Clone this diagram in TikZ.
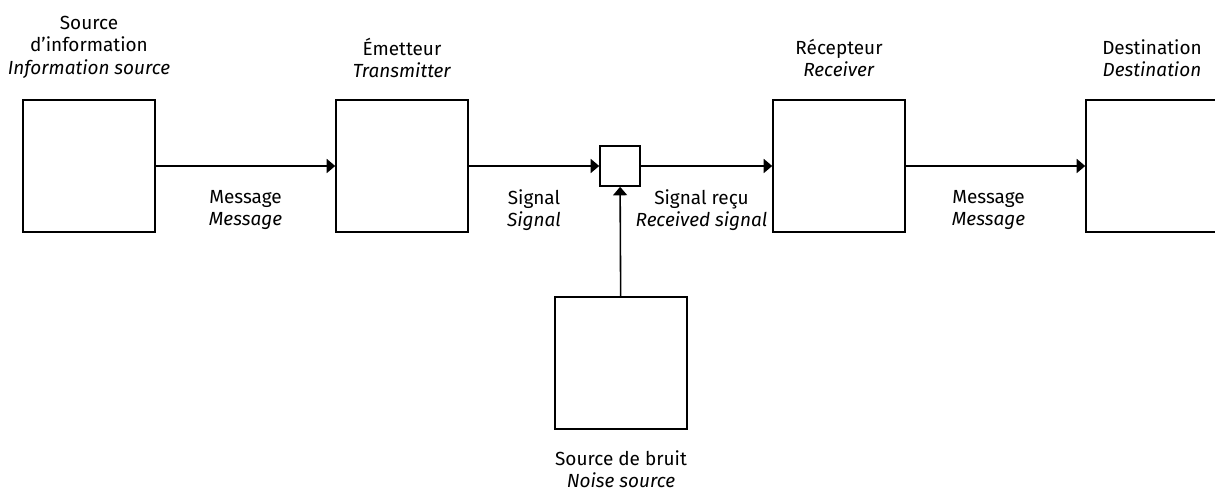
\documentclass[tikz,border=0pt]{standalone}
\usepackage{fontspec}
\setmainfont{Fira Sans}
\usetikzlibrary{arrows.meta,positioning}

\begin{document}
\begin{tikzpicture}[x=0.02cm,y=-0.02cm,
        font=\fontsize{10.8}{12.8}\selectfont,
        box/.style={draw, line width=0.9pt, minimum size=2.64cm, inner sep=0pt},
        lbl/.style={align=center, inner sep=0pt},
        flow/.style={line width=0.9pt, -{Triangle[length=0.17cm, width=0.28cm]}}]
    \useasboundingbox (0,0) rectangle (1215,492);
    % main chain
    \node[box] (src) at (89,166) {};
    \node[box] (tx) at (402,166) {};
    \node[draw, line width=0.9pt, minimum size=0.8cm, inner sep=0pt] (mix) at (620,166) {};
    \node[box] (rx) at (839,166) {};
    \node[box] (dst) at (1152,166) {};
    \node[box] (noise) at (621,363) {};
    % titles
    \node[lbl] (srclbl) at (89,47) {Source\\d’information\\\textit{Information source}};
    \node[lbl] (txlbl) at (402,58) {Émetteur\\\textit{Transmitter}};
    \node[lbl] (rxlbl) at (839,58) {Récepteur\\\textit{Receiver}};
    \node[lbl] (dstlbl) at (1152,58) {Destination\\\textit{Destination}};
    \node[lbl] (noiselbl) at (621,469) {Source de bruit\\\textit{Noise source}};
    % connectors
    \draw[flow] (src) -- node[lbl, yshift=-0.88cm] {Message\\\textit{Message}} (tx);
    \draw[flow] (tx) -- node[lbl, yshift=-0.88cm] {Signal\\\textit{Signal}} (mix);
    \draw[flow] (mix) -- node[lbl, yshift=-0.88cm, xshift=-0.1cm] {Signal reçu\\\textit{Received signal}} (rx);
    \draw[flow] (rx) -- node[lbl, yshift=-0.88cm, xshift=-0.14cm] {Message\\\textit{Message}} (dst);
    \draw[flow] (noise) -- (mix);
\end{tikzpicture}
\end{document}
